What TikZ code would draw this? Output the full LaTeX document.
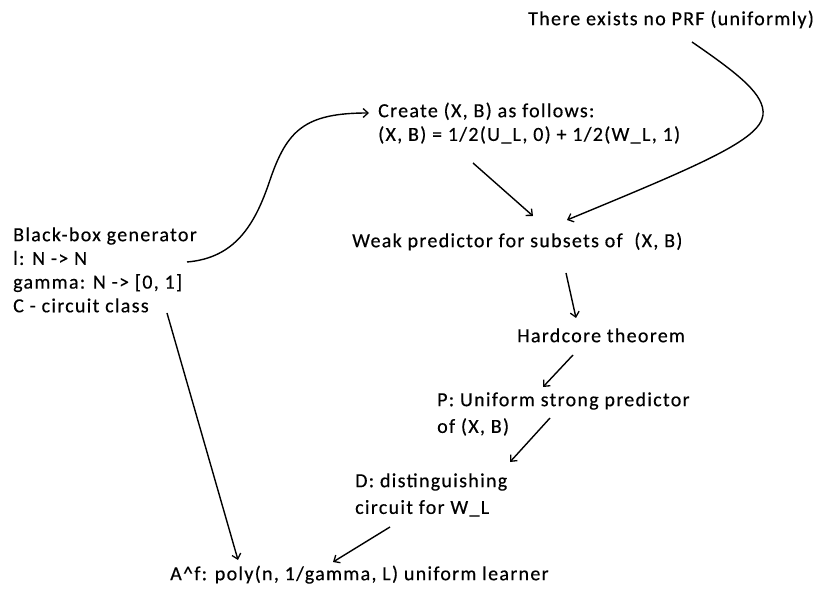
\documentclass[tikz,border=0pt]{standalone}
\usepackage{fontspec}
\setmainfont{Carlito}[LetterSpace=6.5,FakeBold=0.4]
\usetikzlibrary{arrows.meta,calc}
\begin{document}
\begin{tikzpicture}[x=1pt,y=-1pt,
  lbl/.style={anchor=north west,inner sep=0pt,align=left,font=\fontsize{20}{23.7}\selectfont},
  lblw/.style={anchor=north west,inner sep=0pt,align=left,font=\fontsize{20}{26.7}\selectfont},
  conn/.style={line width=1.4pt,-{Straight Barb[length=5pt,width=9pt,line width=1.3pt]}}]
\useasboundingbox (0,0) rectangle (830,593);
\node[lbl] (prf) at (528,8.4) {\strut There exists no PRF (uniformly)};
\node[lbl] (create) at (378,100.4) {\strut Create (X, B) as follows:\\(X, B) = 1/2(U\_L, 0) + 1/2(W\_L, 1)};
\node[lbl] (weak) at (352,230.4) {\strut Weak predictor for subsets of~ (X, B)};
\node[lbl] (gen) at (13,224.4) {\strut Black-box generator\\l: N -> N\\gamma: N -> [0, 1]\\C - circuit class};
\node[lbl] (hard) at (517,325.4) {\strut Hardcore theorem};
\node[lblw] (pp) at (437,387.3) {\strut P: Uniform strong predictor\\of (X, B)};
\node[lblw] (dd) at (355,468.3) {\strut D: distinguishing\\circuit for W\_L};
\node[lbl] (af) at (170,563.4) {\strut A\^{}f: poly(n, 1/gamma, L) uniform learner};
\draw[conn] ($(gen.north west)+(174,37.6)$) .. controls (235,258) and (255,225) .. (270,180)
  .. controls (287,130) and (305,113) .. ($(create.north west)+(-9,12.6)$);
\draw[conn] ($(prf.north west)+(164,33.6)$) .. controls (740,75) and (765,95) .. (763,115)
  .. controls (760,140) and (700,165) .. ($(weak.north west)+(215,-10.4)$);
\draw[conn] ($(create.north west)+(95,62.6)$) -- ($(weak.north west)+(181,-14.4)$);
\draw[conn] ($(weak.north west)+(214,42.6)$) -- ($(hard.north west)+(59,-7.4)$);
\draw[conn] ($(hard.north west)+(56,29.6)$) -- ($(pp.north west)+(106,-0.3)$);
\draw[conn] ($(pp.north west)+(113,30.7)$) -- ($(dd.north west)+(155,-6.3)$);
\draw[conn] ($(dd.north west)+(35,58.7)$) -- ($(af.north west)+(163,-1.4)$);
\draw[conn] ($(gen.north west)+(154,88.6)$) -- ($(af.north west)+(68,-3.4)$);
\end{tikzpicture}
\end{document}
